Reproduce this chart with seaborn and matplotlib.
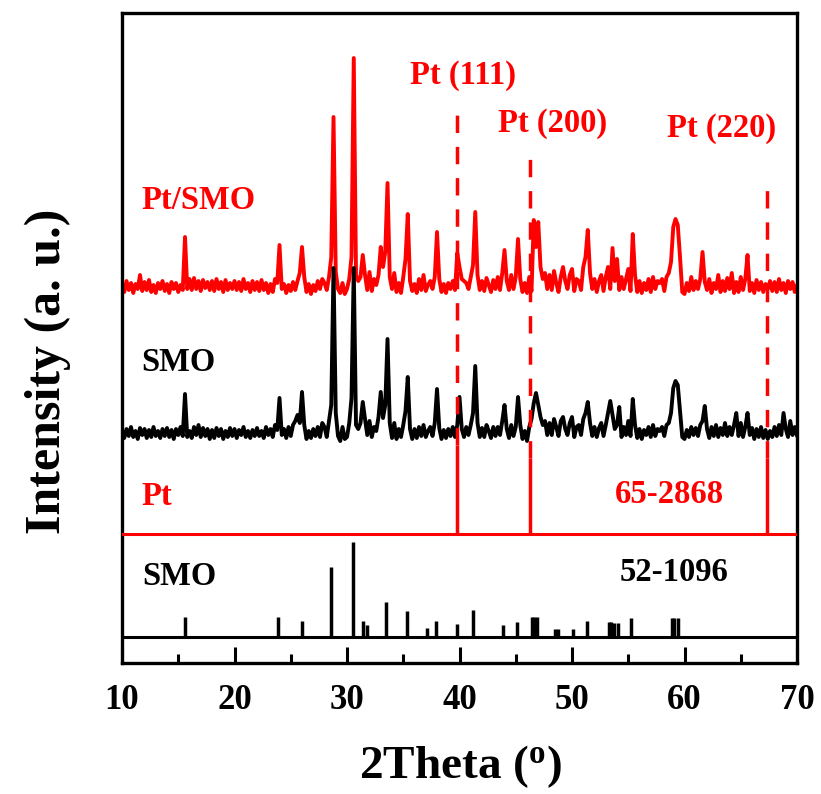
import numpy as np
import pandas as pd
import matplotlib
matplotlib.use("Agg")
import matplotlib.pyplot as plt
import seaborn as sns

# 2theta scan grid (deg), 0.2 deg step
two_theta = np.round(np.arange(10, 70.01, 0.2), 1)

# Pt/SMO pattern, counts above its own baseline (a.u.)
pt_smo = [
    2, -5, 6, -3, 4, -6, 3, -2, 12, -4,
    5, -3, 7, -5, 2, -6, 4, -2, 6, -4,
    3, -6, 5, -2, 4, -5, 2, -3, 50, -2,
    8, -3, 9, -2, 6, -4, 7, -1, 5, -3,
    6, -4, 8, -2, 5, -5, 7, -3, 4, -2,
    6, -3, 5, -4, 8, -2, 4, -5, 6, -3,
    5, -4, 7, -3, 4, -6, 3, -5, 8, 4,
    42, -2, 3, -6, 2, -4, 5, -3, 6, 14,
    40, 10, -5, 3, -7, 2, -4, 6, -2, 8,
    4, -3, 10, 30, 170, 15, -2, -6, 4, -7,
    -2, 8, 30, 229, 12, 6, 10, 32, 12, -3,
    15, -4, 8, 2, 12, 40, 20, 35, 104, 10,
    -2, 14, -5, 4, -6, 10, 28, 73, 6, -4,
    3, -6, 8, -3, 12, -4, 2, 6, -2, 10,
    55, 8, -5, 3, -6, 4, -2, 6, -3, 34,
    20, 8, 6, 4, -2, 10, 22, 75, 12, -3,
    6, -4, 9, 2, -5, 7, -2, 10, -3, 14,
    37, 6, -3, 12, -2, 10, 48, 8, -5, 4,
    -6, 10, -4, 67, 40, 65, 20, 8, 14, -2,
    12, -3, 16, 4, -5, 10, 20, 6, -2, 12,
    18, -4, 8, 6, -3, 20, 30, 57, 14, -2,
    8, -5, 6, 12, -4, 10, 20, -2, 39, 6,
    28, -3, 10, -2, 8, 18, -4, 53, 12, -5,
    6, -6, 4, -3, 8, -5, 10, -2, 6, 4,
    8, -4, 10, 14, 25, 60, 68, 62, 30, -5,
    -7, 4, -4, 10, -3, 6, -2, 8, 35, 5,
    -3, 8, -6, 4, -2, 12, -5, 6, -4, 9,
    -2, 14, -6, 5, -5, 10, -3, 8, 32, -4,
    4, -6, 7, -3, 5, -5, 3, -2, 6, -4,
    5, -5, 8, -3, 4, -6, 6, -2, 5, -5,
    2,
]

# SMO pattern
smo = [
    3, -5, 4, -3, 6, -4, 2, -6, 5, -2,
    4, -5, 3, -4, 6, -3, 2, -5, 4, -3,
    5, -4, 3, -6, 4, -2, 6, -3, 39, -4,
    2, -5, 6, -2, 8, -4, 5, -3, 4, -6,
    3, -5, 5, -3, 4, -6, 2, -4, 5, -3,
    4, -5, 3, -2, 6, -4, 2, -5, 3, -3,
    5, -3, 2, -5, 6, -2, 4, -4, 8, 3,
    35, -2, 4, -5, 6, -3, 8, 12, 18, 10,
    41, 8, -6, 2, -5, 4, -3, 6, -4, 10,
    6, -4, 12, 28, 165, 20, -3, -8, 6, -6,
    -4, 10, 35, 165, 8, 4, 10, 31, 14, -2,
    12, -4, 6, 2, 16, 41, 15, 28, 94, 10,
    -5, 10, -6, 4, -4, 8, 22, 56, 4, -6,
    4, -5, 6, -3, 8, -4, 2, 6, -3, 10,
    44, 5, -6, 3, -5, 4, -3, 6, -4, 8,
    36, 4, -4, 6, -2, 8, 20, 67, 10, -4,
    5, -4, 8, 2, -5, 6, -3, 6, -2, 12,
    28, 4, -5, 8, -3, 6, 36, 8, -6, 2,
    -8, 6, 14, 30, 40, 28, 16, 8, 12, -2,
    10, -2, 14, 6, -3, 12, 16, 4, -2, 10,
    16, -4, 6, 8, -2, 14, 20, 31, 10, -3,
    6, -4, 5, 10, -3, 8, 20, 32, 18, 4,
    8, 26, -4, 6, -2, 12, -3, 34, 8, -5,
    4, -6, 3, -2, 6, -4, 8, -3, 4, 2,
    6, -3, 8, 10, 20, 45, 52, 48, 22, -4,
    -6, 3, -4, 6, -2, 5, -3, 8, 12, 27,
    4, -5, 6, -3, 8, -4, 5, -2, 10, -3,
    6, -2, 8, 20, -3, 10, -4, 6, 20, -2,
    5, -6, 4, -4, 6, -5, 3, -6, 2, -4,
    6, -3, 8, -2, 20, 4, -4, 12, -2, 6,
    -3,
]

# reference cards
pt_ref_pos = [39.75, 46.25, 67.3]
pt_ref_int = [89, 76, 76]
pt_hkl = ["Pt (111)", "Pt (200)", "Pt (220)"]
pt_guide_top = [551, 513, 480]

smo_ref_pos = [15.6, 23.9, 26.0, 28.6, 30.5, 31.4, 31.8, 33.5, 35.3, 37.1,
               37.9, 39.75, 41.2, 43.85, 45.1, 46.4, 46.6, 46.9, 48.5, 48.75,
               50.1, 51.3, 53.3, 53.5, 53.7, 54.1, 55.2, 58.9, 59.1, 59.4]
smo_ref_int = [20, 20, 16, 70, 95, 16, 12, 35, 26, 9,
               16, 13, 27, 12, 15, 20, 20, 20, 8, 8,
               8, 16, 15, 15, 14, 14, 19, 19, 19, 19]

# vertical stacking offsets
off_ptsmo = 376
off_smo = 230
off_ptref = 129
off_smoref = 26

RED = "#ff0000"

sns.set_theme(style="white")
plt.rcParams["font.family"] = ["Liberation Serif", "DejaVu Serif"]
plt.rcParams["font.weight"] = "bold"
plt.rcParams["text.color"] = "black"
plt.rcParams["axes.labelcolor"] = "black"
plt.rcParams["mathtext.fontset"] = "custom"
plt.rcParams["mathtext.rm"] = "Liberation Serif:bold"
plt.rcParams["mathtext.it"] = "Liberation Serif:bold"
plt.rcParams["mathtext.bf"] = "Liberation Serif:bold"

df = pd.concat([
    pd.DataFrame({"2theta": two_theta, "I": np.array(pt_smo) + off_ptsmo, "sample": "Pt/SMO"}),
    pd.DataFrame({"2theta": two_theta, "I": np.array(smo) + off_smo, "sample": "SMO"}),
])

fig = plt.figure(figsize=(8.21, 7.94), dpi=100)
ax = fig.add_axes([0.1486, 0.165, 0.8222, 0.8186])

sns.lineplot(data=df, x="2theta", y="I", hue="sample", hue_order=["Pt/SMO", "SMO"],
             palette={"Pt/SMO": RED, "SMO": "black"}, estimator=None, sort=False,
             linewidth=2.8, legend=False, ax=ax)

# reference lines
ax.axhline(off_ptref, color=RED, lw=2.2, zorder=3)
ax.axhline(off_smoref, color="black", lw=2.2, zorder=3)
ax.vlines(pt_ref_pos, off_ptref, np.array(pt_ref_int) + off_ptref, color=RED, lw=2.5, zorder=3)
ax.vlines(smo_ref_pos, off_smoref, np.array(smo_ref_int) + off_smoref, color="black", lw=2.5, zorder=3)
ax.vlines(pt_ref_pos, np.array(pt_ref_int) + off_ptref, pt_guide_top, color=RED, lw=2.5,
          linestyles=(0, (5, 4)), zorder=4)

# annotations
fs = 23.5
ax.text(11.7, 463, "Pt/SMO", color=RED, fontsize=fs, fontweight="bold", va="center")
ax.text(11.7, 301, "SMO", color="black", fontsize=fs, fontweight="bold", va="center")
ax.text(11.7, 166, "Pt", color=RED, fontsize=fs, fontweight="bold", va="center")
ax.text(11.8, 86, "SMO", color="black", fontsize=fs, fontweight="bold", va="center")
ax.text(58.7, 168, "65-2868", color=RED, fontsize=fs, fontweight="bold", ha="center", va="center")
ax.text(59.1, 90, "52-1096", color="black", fontsize=fs, fontweight="bold", ha="center", va="center")
for x, y, lab in zip([40.27, 48.3, 63.3], [588, 540, 535], pt_hkl):
    ax.text(x, y, lab, color=RED, fontsize=fs, fontweight="bold", ha="center", va="center")

ax.set_xlim(10, 70)
ax.set_ylim(0, 650)
ax.set_xticks(range(10, 71, 10))
ax.set_xticks(range(15, 70, 10), minor=True)
ax.set_yticks([])
ax.tick_params(axis="x", which="both", direction="in", bottom=True, top=False,
               width=2.2, labelsize=25, pad=15, colors="black")
ax.tick_params(axis="x", which="major", length=11.5)
ax.tick_params(axis="x", which="minor", length=6.5)
for lab in ax.get_xticklabels():
    lab.set_fontweight("bold")
for sp in ax.spines.values():
    sp.set_linewidth(2.4)
    sp.set_color("black")
ax.set_xlabel("")
ax.set_ylabel("")

fig.text(48 / 821, 1 - 371 / 794, "Intensity (a. u.)", rotation=90, ha="center", va="center",
         fontsize=36, fontweight="bold", color="black")
fig.text(460 / 821, 1 - 767 / 794, r"2Theta ($^\mathrm{o}$)", ha="center", va="center",
         fontsize=34, fontweight="bold", color="black")

fig.savefig("out.png", dpi=100)
